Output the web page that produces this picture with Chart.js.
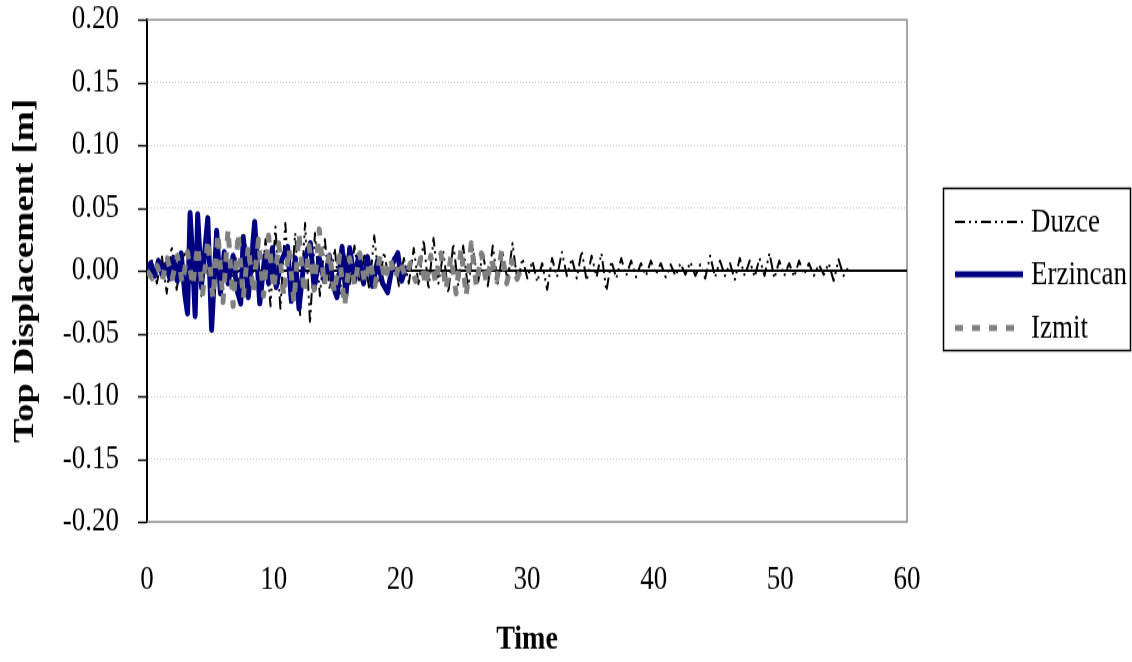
<!DOCTYPE html>
<html><head><meta charset="utf-8">
<script src="https://cdn.jsdelivr.net/npm/chart.js@4/dist/chart.umd.min.js"></script>
<style>
html{margin:0;padding:0;background:#fff;overflow:hidden;width:1132px;height:662px;}
body{margin:0;padding:0;background:#fff;width:1132px;height:662px;}
#wrap{width:1132px;height:543px;transform:scaleY(1.2192);transform-origin:0 0;}
canvas{display:block;}
</style></head><body>
<div id="wrap"><canvas id="c" width="1132" height="543" style="width:1132px;height:543px"></canvas></div>
<script>
const seriesNames = ['Duzce', 'Erzincan', 'Izmit'];
const xTickValues = [0, 10, 20, 30, 40, 50, 60];
const yTickValues = [-0.20, -0.15, -0.10, -0.05, 0.00, 0.05, 0.10, 0.15, 0.20];

const duzceStep = 0.39;
const duzceValues = [0.000, 0.008, -0.010, 0.012, -0.018, 0.020, -0.015, 0.010,
 0.015, -0.012, 0.010, -0.020, 0.018, -0.010, 0.012,
 -0.015, 0.015, -0.012, 0.010, -0.018, 0.020, -0.010, 0.012,
 -0.020, 0.025, -0.028, 0.035, -0.030, 0.038, -0.025, 0.030,
 -0.035, 0.038, -0.042, 0.030, -0.020, 0.025, -0.015,
 0.018, -0.020, 0.015, -0.012, 0.020, -0.010, 0.012,
 -0.015, 0.028, -0.010, 0.015, -0.008, 0.012, -0.012, 0.010,
 -0.010, 0.018, -0.012, 0.025, -0.015, 0.026, -0.010, 0.015,
 -0.018, 0.022, -0.012, 0.020, -0.015, 0.018, -0.010, 0.015,
 -0.012, 0.020, -0.010, 0.014, -0.008, 0.022, -0.010,
 0.010, -0.006, 0.008, -0.009, 0.006, -0.015, 0.010, -0.005,
 0.015, -0.004, 0.010, -0.006, 0.016, -0.008, 0.012,
 -0.005, 0.014, -0.016, 0.008, -0.006, 0.010, -0.004, 0.008,
 -0.005, 0.006, -0.004, 0.008, -0.003, 0.006, -0.005, 0.005,
 -0.004, 0.006, -0.003, 0.007, -0.004, 0.005, -0.006,
 0.012, -0.005, 0.008, -0.004, 0.006, -0.007, 0.010, -0.004,
 0.008, -0.005, 0.010, -0.004, 0.014, -0.006, 0.008,
 -0.004, 0.006, -0.005, 0.008, -0.003, 0.006, -0.004, 0.005,
 -0.003, 0.006, -0.008, 0.009, -0.004, 0.003];

const erzincanTimes = [0.0, 0.3, 0.6, 0.9, 1.2, 1.5, 1.8, 2.1, 2.4, 2.7, 3.0, 3.2, 3.4, 3.6, 3.8, 4.0,
 4.3, 4.6, 4.8, 5.1, 5.5, 5.8, 6.1, 6.4, 6.8, 7.1, 7.4, 7.6, 8.0, 8.5, 8.9, 9.3, 9.6, 9.9,
 10.2, 10.6, 11.1, 11.4, 11.7, 12.0, 12.4, 12.9, 13.2, 13.6, 14.0, 14.4, 14.7, 15.0, 15.4,
 15.7, 16.0, 16.4, 16.7, 17.1, 17.4, 17.8, 18.2, 18.6, 19.0, 19.4, 19.8, 20.1, 20.4];
const erzincanValues = [0.000, 0.006, -0.004, 0.008, -0.003, 0.005, -0.006, 0.010, -0.008, 0.014, -0.020, -0.034, 0.046, 0.010, -0.036, 0.045,
 -0.012, 0.020, 0.042, -0.047, 0.032, -0.018, 0.015, -0.010, 0.012, -0.015, -0.026, 0.027, -0.021, 0.039, -0.026, 0.012, -0.010, 0.018,
 -0.013, 0.008, 0.019, -0.024, 0.010, -0.030, 0.008, 0.022, -0.014, 0.010, -0.008, 0.012, -0.012, -0.021, 0.019,
 -0.020, 0.018, -0.008, 0.012, -0.010, 0.011, -0.012, 0.008, -0.010, -0.017, 0.006, 0.014, -0.008, 0.002];

const izmitStep = 0.4;
const izmitValues = [0.000, -0.006, 0.004, -0.008, 0.010, -0.006, 0.012, -0.010, 0.015, -0.012,
 0.020, -0.018, 0.025, -0.022, 0.030, -0.025, 0.033, -0.028, 0.030, -0.022,
 0.020, -0.018, 0.025, -0.020, 0.028, -0.015, 0.022, -0.020, 0.018, -0.025,
 0.030, -0.018, 0.020, -0.015, 0.033, -0.012, 0.015, -0.018, 0.012, -0.028,
 0.010, -0.012, 0.014, -0.010, 0.008, -0.012, 0.012, -0.008, 0.010, -0.006,
 0.008, -0.005, 0.006, -0.008, 0.010, -0.012, 0.012, -0.010, 0.014, -0.015,
 0.012, -0.018, 0.018, -0.020, 0.022, -0.012, 0.014, -0.010, 0.010, -0.008,
 0.016, -0.010, 0.008, -0.006, 0.002];

const FONT = "'Liberation Serif', 'Times New Roman', serif";

const duzceData = duzceValues.map((v, i) => ({x: +(i * duzceStep).toFixed(3), y: v}));
const erzincanData = erzincanValues.map((v, i) => ({x: erzincanTimes[i], y: v}));
const izmitData = izmitValues.map((v, i) => ({x: +(i * izmitStep).toFixed(3), y: v}));

const styles = [
  {color: '#000000', width: 2, dash: [10, 4, 2, 4, 2, 4]},
  {color: '#000080', width: 5, dash: []},
  {color: '#808080', width: 5, dash: [8, 9]}
];

const framePlugin = {
  id: 'frame',
  beforeDatasetsDraw(chart) {
    const {ctx, chartArea: a, scales: {y}} = chart;
    ctx.save();
    ctx.strokeStyle = '#8c8c8c';
    ctx.lineWidth = 1.5;
    ctx.beginPath();
    ctx.moveTo(a.left, a.top); ctx.lineTo(a.right, a.top);
    ctx.lineTo(a.right, a.bottom); ctx.lineTo(a.left, a.bottom);
    ctx.stroke();
    ctx.strokeStyle = '#000';
    ctx.lineWidth = 1.5;
    y.ticks.forEach(t => {
      const py = Math.round(y.getPixelForValue(t.value)) + 0.5;
      ctx.beginPath();
      ctx.moveTo(a.left - 9, py); ctx.lineTo(a.left, py);
      ctx.stroke();
    });
    const y0 = y.getPixelForValue(0);
    ctx.lineWidth = 2;
    ctx.beginPath();
    ctx.moveTo(a.left, y0); ctx.lineTo(a.right, y0);
    ctx.stroke();
    ctx.restore();
  },
  afterDraw(chart) {
    const {ctx} = chart;
    ctx.save();
    ctx.strokeStyle = '#000';
    ctx.lineWidth = 1.5;
    ctx.strokeRect(943.5, 154.5, 187, 133);
    const rows = [182, 225, 269];
    ctx.font = '27px ' + FONT;
    ctx.textBaseline = 'middle';
    ctx.fillStyle = '#000';
    seriesNames.forEach((name, i) => {
      const s = styles[i];
      ctx.save();
      ctx.strokeStyle = s.color;
      ctx.lineWidth = s.width;
      ctx.setLineDash(s.dash);
      ctx.beginPath();
      ctx.moveTo(955, rows[i]); ctx.lineTo(1023, rows[i]);
      ctx.stroke();
      ctx.restore();
      ctx.fillText(name, 1031, rows[i] + 1);
    });
    ctx.restore();
  }
};

const datasets = [duzceData, erzincanData, izmitData].map((d, i) => ({
  label: seriesNames[i],
  data: d,
  borderColor: styles[i].color,
  borderWidth: styles[i].width,
  borderDash: styles[i].dash,
  pointRadius: 0,
  tension: 0,
  fill: false,
  showLine: true,
  borderJoinStyle: 'round',
  borderCapStyle: i === 1 ? 'round' : 'butt',
  order: 3 - i
}));

new Chart(document.getElementById('c'), {
  type: 'scatter',
  data: {datasets},
  plugins: [framePlugin],
  options: {
    responsive: false,
    animation: false,
    devicePixelRatio: 1,
    layout: {padding: {top: 16, right: 225, bottom: 0, left: 0}},
    plugins: {legend: {display: false}, tooltip: {enabled: false}},
    scales: {
      x: {
        type: 'linear', min: 0, max: 60,
        afterBuildTicks: s => { s.ticks = xTickValues.map(v => ({value: v})); },
        afterFit: s => { s.height = 115; },
        grid: {display: false, drawTicks: false},
        border: {display: false},
        ticks: {padding: 32, color: '#000', font: {family: FONT, size: 27}, maxRotation: 0},
        title: {display: true, text: 'Time', color: '#000', font: {family: FONT, size: 28, weight: 'bold'}, padding: {top: 0, bottom: 1}}
      },
      y: {
        type: 'linear', min: -0.2, max: 0.2,
        afterBuildTicks: s => { s.ticks = yTickValues.map(v => ({value: v})); },
        afterFit: s => { s.width = 147; },
        grid: {
          color: c => (c.tick && Math.abs(c.tick.value) > 0.001 && Math.abs(c.tick.value) < 0.19) ? '#c4c4c4' : 'rgba(0,0,0,0)',
          lineWidth: 1,
          drawTicks: true,
          tickColor: 'rgba(0,0,0,0)', tickLength: 28, tickWidth: 1
        },
        border: {display: true, color: '#000', width: 2, dash: [1, 2]},
        ticks: {
          padding: 0, color: '#000', font: {family: FONT, size: 27},
          callback: v => (Math.abs(v) < 1e-9 ? 0 : v).toFixed(2)
        },
        title: {display: true, text: 'Top Displacement [m]', color: '#000', font: {family: FONT, size: 30, weight: 'bold'}, padding: {top: 7, bottom: 0}}
      }
    }
  }
});
</script>
</body></html>
